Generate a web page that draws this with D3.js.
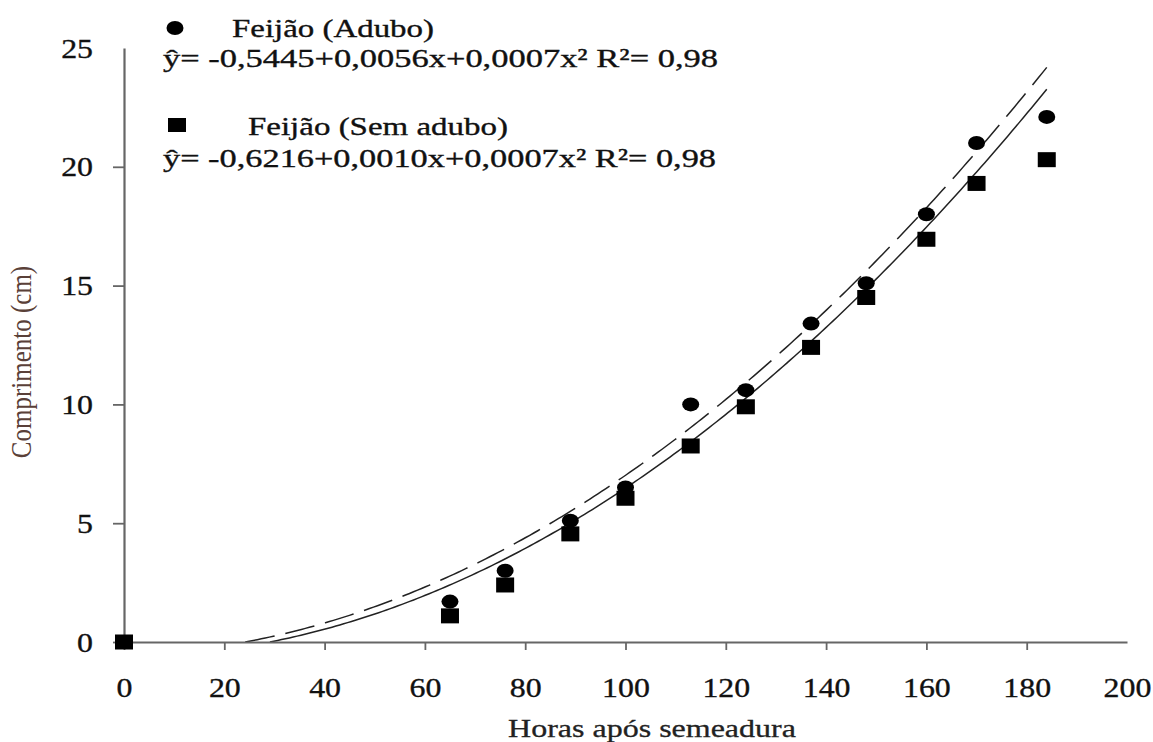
<!DOCTYPE html>
<html>
<head>
<meta charset="utf-8">
<script src="https://cdn.jsdelivr.net/npm/d3@7"></script>
<style>
  html, body { margin: 0; padding: 0; background: #fff; }
  svg { display: block; }
  text { font-family: "Liberation Serif", "Times New Roman", serif; }
</style>
</head>
<body>
<svg id="chart" width="1153" height="742"></svg>
<script>
// Hours after sowing at each measurement
const hours = [0, 65, 76, 89, 100, 113, 124, 137, 148, 160, 170, 184];
// Length (cm) of bean seedlings with fertilizer
const comprimentoAdubo = [0, 1.7, 3.0, 5.1, 6.5, 10.0, 10.6, 13.4, 15.1, 18.0, 21.0, 22.1];
// Length (cm) of bean seedlings without fertilizer
const comprimentoSemAdubo = [0, 1.1, 2.4, 4.55, 6.05, 8.25, 9.9, 12.4, 14.5, 16.95, 19.3, 20.3];

// Quadratic regressions: [intercept, linear, quadratic]
const coefAdubo = [-0.5445, 0.0056, 0.0007];
const coefSemAdubo = [-0.6216, 0.0010, 0.0007];

const xTicks = [0, 20, 40, 60, 80, 100, 120, 140, 160, 180, 200];
const yTicks = [0, 5, 10, 15, 20, 25];

const legendTitles = ["Feijão (Adubo)", "Feijão (Sem adubo)"];
const legendEquations = [
  "ŷ= -0,5445+0,0056x+0,0007x² R²=  0,98",
  "ŷ= -0,6216+0,0010x+0,0007x²  R²= 0,98"
];
const xTitle = "Horas após semeadura";
const yTitle = "Comprimento (cm)";

const svg = d3.select("#chart");
const x = d3.scaleLinear().domain([0, 200]).range([124, 1127]);
const y = d3.scaleLinear().domain([0, 25]).range([642, 48]);

const axisColor = "#666";
const inkColor = "#111";
const stretch = 1.18;

// Regression curves, drawn from the first root (y = 0) to the last sampling hour
function curvePoints(c) {
  const [a0, a1, a2] = c;
  const root = (-a1 + Math.sqrt(a1 * a1 - 4 * a2 * a0)) / (2 * a2);
  const xEnd = d3.max(hours);
  const pts = [];
  const n = 200;
  for (let i = 0; i <= n; i++) {
    const h = root + (xEnd - root) * i / n;
    pts.push([h, a0 + a1 * h + a2 * h * h]);
  }
  return pts;
}
const line = d3.line().x(d => x(d[0])).y(d => y(d[1]));

svg.append("path")
  .attr("d", line(curvePoints(coefSemAdubo)))
  .attr("fill", "none")
  .attr("stroke", "#222")
  .attr("stroke-width", 1.5);

svg.append("path")
  .attr("d", line(curvePoints(coefAdubo)))
  .attr("fill", "none")
  .attr("stroke", "#222")
  .attr("stroke-width", 1.5)
  .attr("stroke-dasharray", "30,11");

// Axes
const xAxis = d3.axisBottom(x).tickValues(xTicks).tickSize(8).tickSizeOuter(0).tickFormat(d3.format("d"));
const yAxis = d3.axisLeft(y).tickValues(yTicks).tickSize(11).tickSizeOuter(0).tickFormat(d3.format("d"));

const gx = svg.append("g").attr("transform", `translate(0,${y(0)})`).call(xAxis);
const gy = svg.append("g").attr("transform", `translate(${x(0)},0)`).call(yAxis);

[gx, gy].forEach(g => {
  g.select(".domain").attr("stroke", axisColor).attr("stroke-width", 2.2);
  g.selectAll(".tick line").attr("stroke", axisColor).attr("stroke-width", 1.8);
  g.selectAll(".tick text")
    .attr("fill", inkColor)
    .attr("stroke", inkColor)
    .attr("stroke-width", 0.35)
    .attr("font-size", 27)
    .attr("font-family", "Liberation Serif, serif");
});
// The axis ends carry labels but no tick marks
gx.selectAll(".tick").filter(d => d === 200).select("line").remove();
gy.selectAll(".tick").filter(d => d === 25).select("line").remove();

gx.selectAll(".tick text")
  .attr("y", 55).attr("dy", 0)
  .attr("transform", `scale(${stretch},1)`);
gy.selectAll(".tick text")
  .attr("x", -31 / stretch).attr("dy", "0.34em")
  .attr("transform", `scale(${stretch},1)`);

// Axis titles
svg.append("text")
  .attr("transform", `translate(652,737) scale(1.28,1)`)
  .attr("text-anchor", "middle")
  .attr("font-size", 25)
  .attr("fill", "#222")
  .attr("stroke", "#222")
  .attr("stroke-width", 0.3)
  .text(xTitle);

svg.append("text")
  .attr("transform", `translate(31,362) scale(1.2,1) rotate(-90)`)
  .attr("text-anchor", "middle")
  .attr("font-size", 25)
  .attr("fill", "#5a4038")
  .text(yTitle);

// Data markers
const ptsSem = hours.map((h, i) => [h, comprimentoSemAdubo[i]]);
const ptsAd = hours.map((h, i) => [h, comprimentoAdubo[i]]);

svg.append("g").selectAll("ellipse").data(ptsAd).join("ellipse")
  .attr("cx", d => x(d[0])).attr("cy", d => y(d[1]))
  .attr("rx", 8.5).attr("ry", 7)
  .attr("fill", "#000");

svg.append("g").selectAll("rect").data(ptsSem).join("rect")
  .attr("x", d => x(d[0]) - 9).attr("y", d => y(d[1]) - 7.5)
  .attr("width", 18).attr("height", 15)
  .attr("fill", "#000");

// Legend
const legend = svg.append("g");
legend.append("ellipse").attr("cx", 175).attr("cy", 28).attr("rx", 8.5).attr("ry", 7).attr("fill", "#000");
legend.append("rect").attr("x", 168).attr("y", 118).attr("width", 18).attr("height", 14).attr("fill", "#000");

const legendRows = [
  { text: legendTitles[0], x: 232, y: 37, w: 202 },
  { text: legendEquations[0], x: 163, y: 67, w: 555 },
  { text: legendTitles[1], x: 248, y: 135, w: 260 },
  { text: legendEquations[1], x: 163, y: 167, w: 553 }
];
legend.selectAll("text").data(legendRows).join("text")
  .attr("x", d => d.x).attr("y", d => d.y)
  .attr("font-size", 26)
  .attr("fill", inkColor)
  .attr("stroke", inkColor)
  .attr("stroke-width", 0.35)
  .attr("textLength", d => d.w)
  .attr("lengthAdjust", "spacingAndGlyphs")
  .text(d => d.text);
</script>
</body>
</html>
